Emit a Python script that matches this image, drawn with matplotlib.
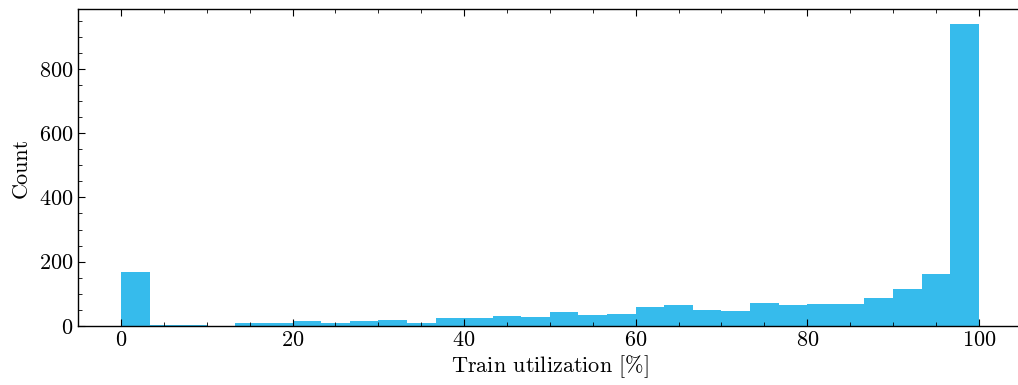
import numpy as np
import matplotlib
matplotlib.use("Agg")
import matplotlib.pyplot as plt
from matplotlib.ticker import MultipleLocator

# Histogram data: 30 equal bins between 0 and 100 % utilization
bin_range = (0, 100)
n_bins = 30
counts = [168, 3, 2, 0, 8, 8, 14, 8, 17, 20,
          8, 24, 24, 30, 27, 43, 33, 36, 59, 65,
          50, 47, 71, 65, 68, 68, 87, 115, 161, 939]
x_label = r"Train utilization [$\%$]"
y_label = "Count"
bar_color = "#36BBEC"

plt.rcParams.update({
    "font.family": "serif",
    "font.serif": ["cmr10", "DejaVu Serif"],
    "mathtext.fontset": "cm",
    "axes.formatter.use_mathtext": True,
    "font.size": 16,
    "axes.unicode_minus": False,
})

edges = np.linspace(bin_range[0], bin_range[1], n_bins + 1)
centers = 0.5 * (edges[:-1] + edges[1:])

fig = plt.figure(figsize=(10.18, 3.85), dpi=100)
ax = fig.add_axes([78 / 1018, 59 / 385, 943.8 / 1018, 317 / 385])
ax.hist(centers, bins=edges, weights=counts, histtype="stepfilled",
        color=bar_color, linewidth=0)

ax.set_xlim(-5, 105)
ax.set_ylim(0, 986)
ax.xaxis.set_major_locator(MultipleLocator(20))
ax.xaxis.set_minor_locator(MultipleLocator(5))
ax.yaxis.set_major_locator(MultipleLocator(200))
ax.yaxis.set_minor_locator(MultipleLocator(50))
ax.tick_params(which="both", direction="in", top=True, right=False, labelsize=16)
ax.tick_params(which="major", length=5, width=0.8)
ax.tick_params(which="minor", length=3, width=0.6)
for s in ax.spines.values():
    s.set_linewidth(1.0)

ax.set_xlabel(x_label, fontsize=16, labelpad=2)
ax.set_ylabel(y_label, fontsize=16, labelpad=6)

fig.savefig("out.png", dpi=100)
